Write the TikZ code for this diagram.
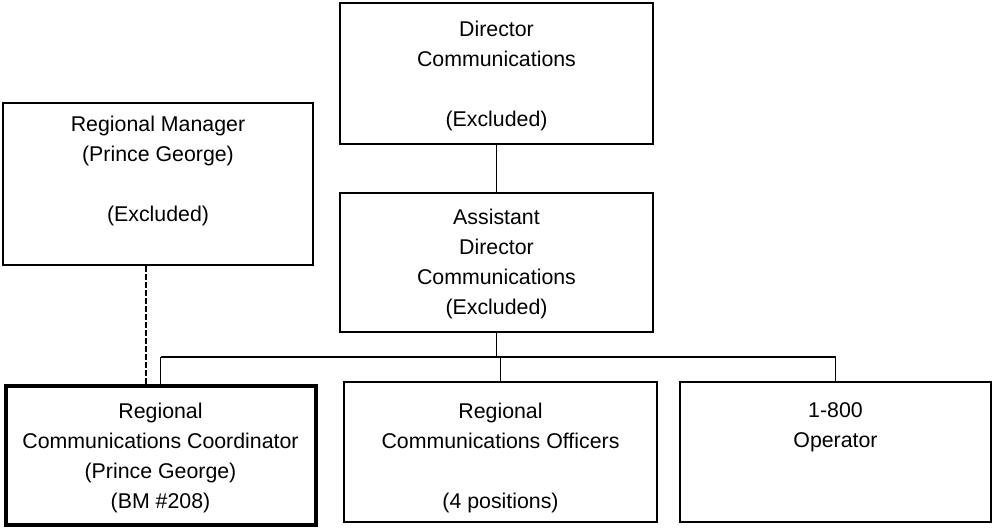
\documentclass[tikz,border=0pt]{standalone}
\usepackage{fontspec}
\setmainfont{Liberation Sans}
\usetikzlibrary{positioning}

\tikzset{
  posbox/.style={draw=black,line width=1.2pt,rectangle,inner sep=0pt},
  keybox/.style={posbox,line width=3pt},
  boxtext/.style={align=center,inner sep=0pt,font=\fontsize{16pt}{22.5pt}\selectfont},
  link/.style={draw=black,line width=1.2pt},
}

\begin{document}
\begin{tikzpicture}[x=0.75pt,y=-0.75pt]
        \useasboundingbox (0,0) rectangle (992,529);

        % boxes
        \node[posbox,minimum width=313*0.75pt,minimum height=141*0.75pt] (dir) at (496.5,73.5) {};
        \node[posbox,minimum width=313*0.75pt,minimum height=139*0.75pt] (asst) at (496.5,262.5) {};
        \node[posbox,minimum width=310*0.75pt,minimum height=162*0.75pt] (rm) at (158,184) {};
        \node[keybox,minimum width=310*0.75pt,minimum height=139*0.75pt] (rcc) at (160.5,455) {};
        \node[posbox,minimum width=313*0.75pt,minimum height=140*0.75pt] (rco) at (500.5,452) {};
        \node[posbox,minimum width=311*0.75pt,minimum height=140*0.75pt] (op) at (835.5,452) {};

        % texts
        \node[boxtext] (dirtxt) at (496.5,76) {Director\\Communications\\[22.5pt](Excluded)};
        \node[boxtext] (assttxt) at (496.5,264) {Assistant\\Director\\Communications\\(Excluded)};
        \node[boxtext] (rmtxt) at (158,171) {Regional Manager\\(Prince George)\\[22.5pt](Excluded)};
        \node[boxtext] (rcctxt) at (160.5,457.5) {Regional\\Communications Coordinator\\(Prince George)\\(BM \#208)};
        \node[boxtext] (rcotxt) at (500.5,458) {Regional\\Communications Officers\\[22.5pt](4 positions)};
        \node[boxtext] (optxt) at (835.5,427.5) {1-800\\Operator};

        % lines
        \coordinate (bar) at (0,357);
        \draw[link] (dir.south) -- (asst.north);
        \draw[link] (asst.south) -- (asst.south |- bar);
        \draw[link] (rcc.north |- bar) -- (op.north |- bar);
        \draw[link] (rcc.north |- bar) -- (rcc.north);
        \draw[link] (rco.north |- bar) -- (rco.north);
        \draw[link] (op.north |- bar) -- (op.north);
        \draw[link,dash pattern=on 4.5pt off 1.5pt] ([xshift=-12*0.75pt]rm.south) -- ([xshift=-12*0.75pt]rm.south |- rcc.north);

\end{tikzpicture}
\end{document}
